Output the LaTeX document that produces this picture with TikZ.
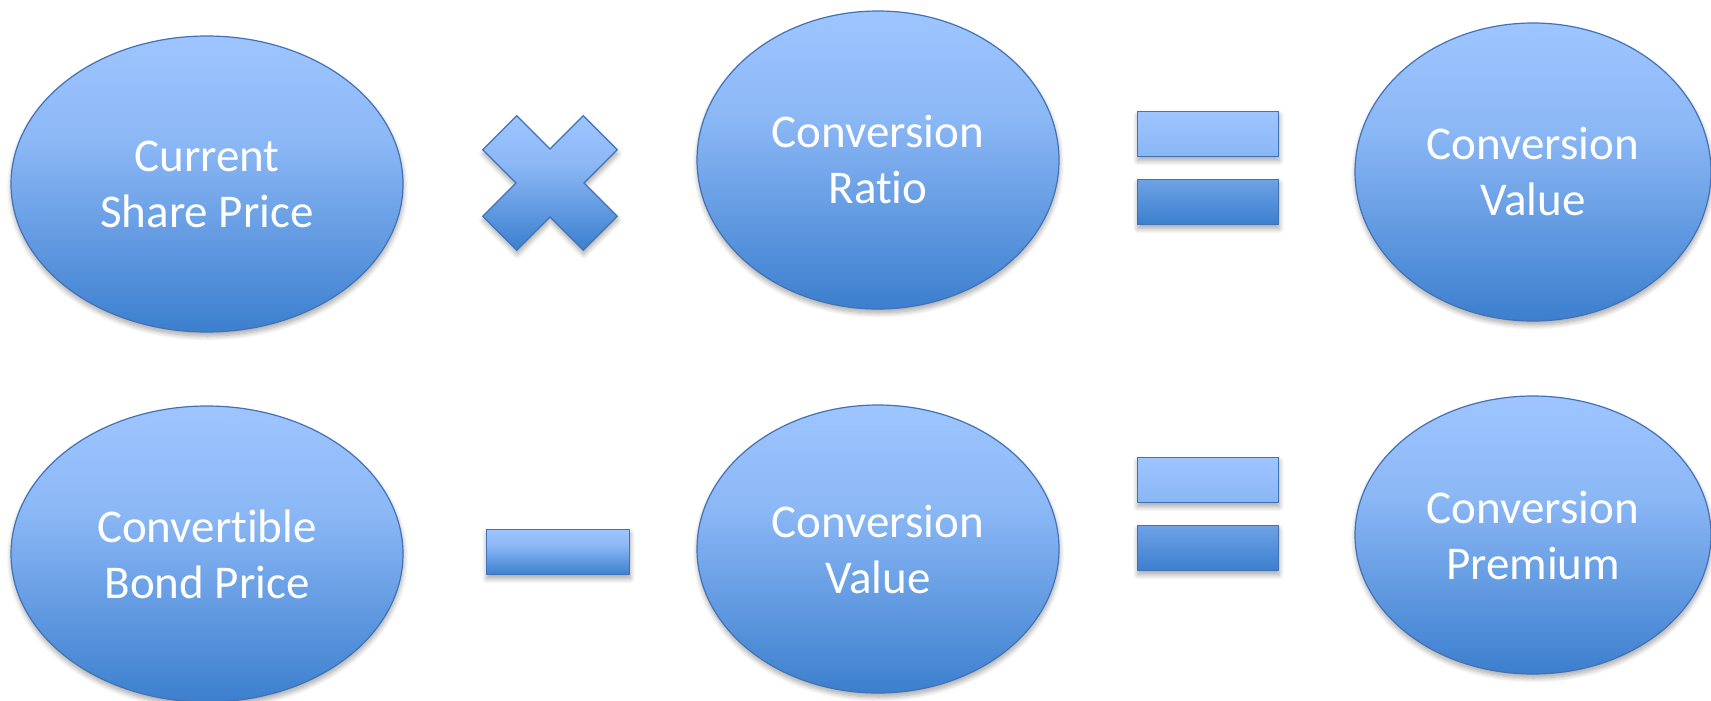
\documentclass[tikz,border=0pt]{standalone}
\usepackage{fontspec}
\setmainfont[Ligatures=NoCommon]{Carlito}
\usetikzlibrary{shapes.geometric,shadows.blur}
\definecolor{toplight}{RGB}{158,197,255}
\definecolor{midblue}{RGB}{140,184,246}
\definecolor{botdark}{RGB}{60,127,206}
\definecolor{rim}{RGB}{66,114,182}
% light top that holds for about a third, then darkens to the base
\pgfdeclareverticalshading{officeblue}{100bp}{%
  color(0bp)=(botdark); color(25bp)=(botdark);
  color(57.5bp)=(midblue);
  color(75bp)=(toplight); color(100bp)=(toplight)}
\tikzset{
  softshadow/.style={blur shadow={shadow xshift=0.5pt, shadow yshift=-4pt,
      shadow blur radius=5pt, shadow blur steps=8, shadow opacity=35}},
  bluefill/.style={draw=rim, line width=1.2pt, shading=officeblue},
  blob/.style={ellipse, bluefill, softshadow, inner sep=0pt, text=white,
      align=center, font=\fontsize{47}{56}\selectfont},
  barslot/.style={rectangle, inner sep=0pt, minimum width=141pt, minimum height=45pt},
}
\begin{document}
\begin{tikzpicture}[x=1pt,y=-1pt]
\useasboundingbox (0,0) rectangle (1711,701);

% first row: share price x ratio = conversion value
\node[blob, minimum width=392pt, minimum height=296pt] (price) at (207,184) {Current\\Share Price};
\begin{scope}[shift={(550,183)}, rotate=45]
  \draw[bluefill, softshadow]
    (24,24) -- (71,24) -- (71,-24) -- (24,-24) -- (24,-71) -- (-24,-71) --
    (-24,-24) -- (-71,-24) -- (-71,24) -- (-24,24) -- (-24,71) -- (24,71) -- cycle;
  \coordinate (times) at (0,0);
\end{scope}
\node[blob, minimum width=362pt, minimum height=298pt] (ratio) at (878,160) {Conversion\\Ratio};
\node[barslot] (eqAtop) at (1208,134) {};
\node[barslot] (eqAbot) at (1208,202) {};
\path[bluefill, softshadow]
  (eqAtop.north west) rectangle (eqAtop.south east)
  (eqAbot.north west) rectangle (eqAbot.south east);
\node[blob, minimum width=356pt, minimum height=298pt] (cvalue) at (1533,172) {Conversion\\Value};

% second row: bond price - conversion value = premium
\node[blob, minimum width=392pt, minimum height=296pt] (bond) at (207,554) {Convertible\\Bond Price};
\node[barslot, minimum width=143pt] (minus) at (558,552) {};
\path[bluefill, softshadow] (minus.north west) rectangle (minus.south east);
\node[blob, minimum width=362pt, minimum height=288pt] (cvalue2) at (878,549) {Conversion\\Value};
\node[barslot] (eqBtop) at (1208,480) {};
\node[barslot] (eqBbot) at (1208,548) {};
\path[bluefill, softshadow]
  (eqBtop.north west) rectangle (eqBtop.south east)
  (eqBbot.north west) rectangle (eqBbot.south east);
\node[blob, minimum width=356pt, minimum height=278pt] (premium) at (1533,535) {Conversion\\Premium};
\end{tikzpicture}
\end{document}
